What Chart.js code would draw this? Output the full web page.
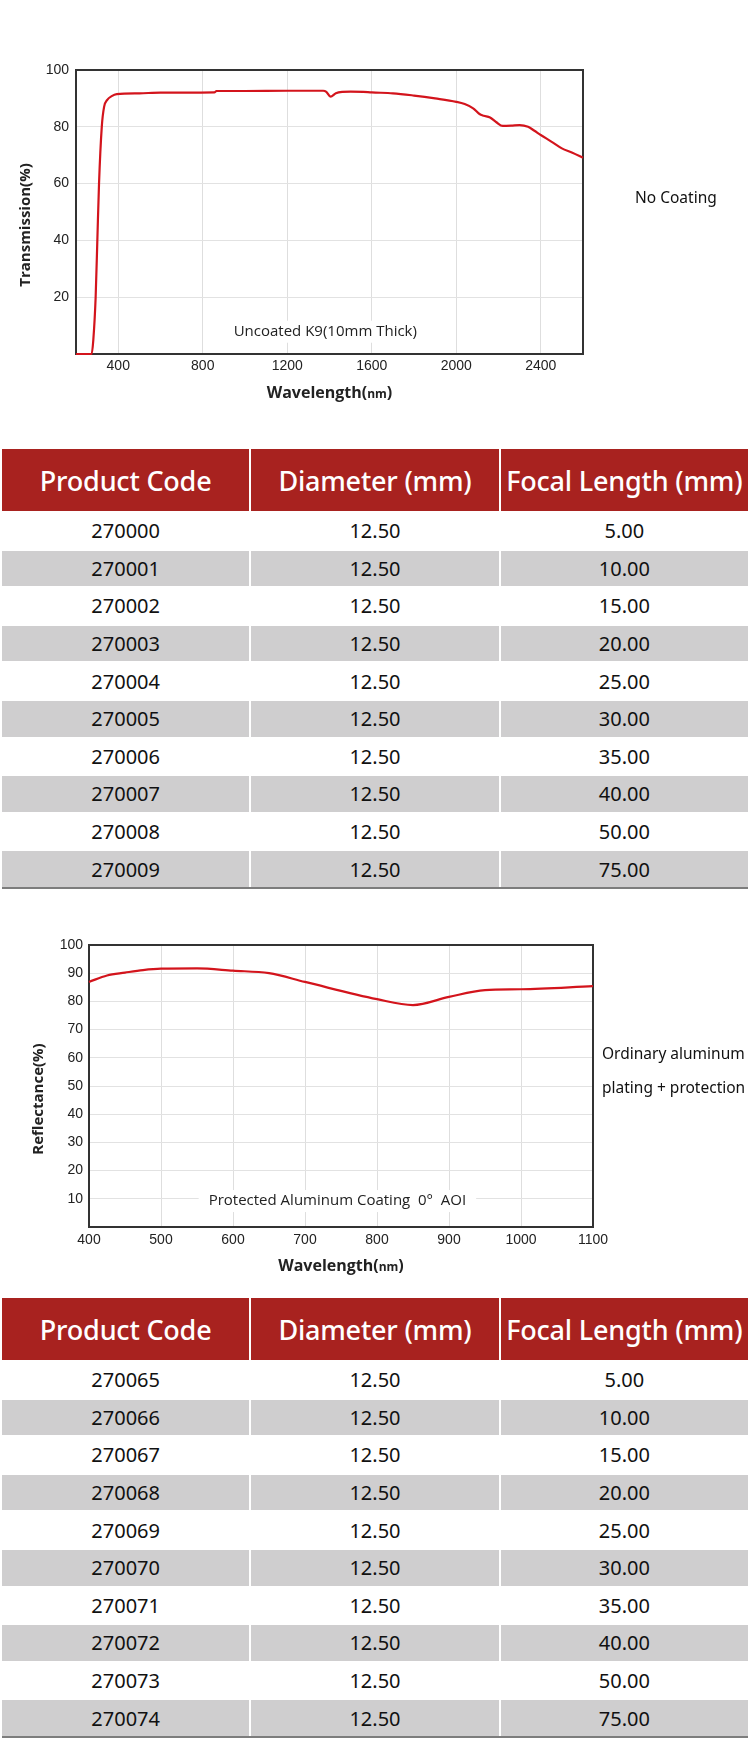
<!DOCTYPE html>
<html>
<head>
<meta charset="utf-8">
<script src="https://cdn.jsdelivr.net/npm/chart.js@4.4.0/dist/chart.umd.min.js"></script>
<style>
body { margin: 0; background: #fff; }
#page { position: relative; width: 750px; height: 1740px; overflow: hidden; background: #fff; }
.plot { position: absolute; left: 0; }
.side { position: absolute; font-family: 'Noto Sans', sans-serif; font-size: 15.5px; line-height: 20px; color: #111; white-space: nowrap; }
.spec { position: absolute; left: 0; width: 750px; }
.spec table { width: 750px; border-collapse: separate; border-spacing: 2px; table-layout: fixed; font-family: 'Noto Sans', sans-serif; }
.spec th { background: #a8221f; color: #fff; height: 62px; font-size: 27px; font-weight: 500; padding: 0; white-space: nowrap; letter-spacing: -0.2px; }
.spec td { height: 35.6px; padding: 0; text-align: center; font-size: 20px; color: #111; }
.spec tbody tr:nth-child(even) td { background: #cfcecf; }
.spec .rule { margin: -2px 0 0 2px; width: 746px; height: 2px; background: #7d7d7d; }
</style>
</head>
<body>
<div id="page">
  <canvas id="transChart" class="plot" width="750" height="420" style="top:0"></canvas>
  <div class="side" style="left:635px; top:187px">No Coating</div>

  <div class="spec" id="table1" style="top:447px"></div>

  <canvas id="reflChart" class="plot" width="750" height="390" style="top:900px"></canvas>
  <div class="side" style="left:602px; top:1043px">Ordinary aluminum</div>
  <div class="side" style="left:602px; top:1077px">plating + protection</div>

  <div class="spec" id="table2" style="top:1296px"></div>
</div>

<script>
// uncoated K9 transmission curve
var wl1 = [200, 274, 282, 293, 301, 309, 322, 333, 348, 369, 393, 500, 600, 700, 855, 865, 1000, 1200, 1370, 1385, 1405, 1430, 1460, 1500, 1560, 1600, 1700, 1800, 1900, 2000, 2040, 2080, 2110, 2130, 2160, 2190, 2220, 2260, 2300, 2340, 2370, 2400, 2450, 2500, 2550, 2600];
var trans1 = [0, 0, 5, 20, 40, 60, 80, 87, 89.5, 90.8, 91.5, 91.8, 92, 92, 92.1, 92.6, 92.6, 92.7, 92.7, 92.3, 90.6, 91.8, 92.3, 92.4, 92.3, 92.1, 91.8, 91, 90, 88.8, 88, 86.5, 84.5, 83.9, 83.3, 81.6, 80.3, 80.4, 80.6, 80, 78.6, 77.1, 74.8, 72.4, 70.9, 69.1];
var xRange1 = [200, 2600];
var xTicks1 = [400, 800, 1200, 1600, 2000, 2400];
var yTicks1 = [0, 20, 40, 60, 80, 100];

// protected aluminum reflectance curve
var wl2 = [400, 425, 450, 475, 500, 550, 600, 650, 700, 800, 850, 900, 950, 1000, 1100];
var refl2 = [86.9, 89.2, 90.2, 91.1, 91.6, 91.7, 90.9, 90.0, 86.9, 80.8, 78.7, 81.6, 84.0, 84.3, 85.4];
var xRange2 = [400, 1100];
var xTicks2 = [400, 500, 600, 700, 800, 900, 1000, 1100];
var yTicks2 = [0, 10, 20, 30, 40, 50, 60, 70, 80, 90, 100];

// product tables
var headers = ['Product Code', 'Diameter (mm)', 'Focal Length (mm)'];
var codes1 = ['270000', '270001', '270002', '270003', '270004', '270005', '270006', '270007', '270008', '270009'];
var codes2 = ['270065', '270066', '270067', '270068', '270069', '270070', '270071', '270072', '270073', '270074'];
var diameters = ['12.50', '12.50', '12.50', '12.50', '12.50', '12.50', '12.50', '12.50', '12.50', '12.50'];
var focals = ['5.00', '10.00', '15.00', '20.00', '25.00', '30.00', '35.00', '40.00', '50.00', '75.00'];

function buildTable(id, codes) {
     var html = '<table><thead><tr>';
     headers.forEach(function(h) { html += '<th>' + h + '</th>'; });
     html += '</tr></thead><tbody>';
     codes.forEach(function(c, i) {
          html += '<tr><td>' + c + '</td><td>' + diameters[i] + '</td><td>' + focals[i] + '</td></tr>';
     });
     html += '</tbody></table><div class="rule"></div>';
     document.getElementById(id).innerHTML = html;
}
buildTable('table1', codes1);
buildTable('table2', codes2);

// frame, inner note and axis titles
var framePlugin = {
     id: 'frame',
     beforeDatasetsDraw: function(chart) {
          var a = chart.chartArea, ctx = chart.ctx;
          ctx.save();
          ctx.strokeStyle = '#333';
          ctx.lineWidth = 2;
          ctx.strokeRect(a.left, a.top, a.right - a.left, a.bottom - a.top);
          ctx.restore();
     },
     afterDraw: function(chart, args, opts) {
          var a = chart.chartArea, ctx = chart.ctx;
          var sx = chart.scales.x, sy = chart.scales.y;
          ctx.save();
          ctx.textAlign = 'center';
          ctx.textBaseline = 'middle';

          // note inside the plot
          ctx.font = '15px "Open Sans"';
          var nw = ctx.measureText(opts.note).width;
          var nx = sx.getPixelForValue(opts.noteAt[0]);
          var ny = sy.getPixelForValue(opts.noteAt[1]);
          ctx.fillStyle = '#fff';
          ctx.fillRect(nx - nw / 2 - 10, ny - 11, nw + 20, 22);
          ctx.fillStyle = '#222';
          ctx.fillText(opts.note, nx, ny);

          // y title
          ctx.save();
          ctx.font = 'bold 15px "Open Sans"';
          ctx.translate(a.left - 50, (a.top + a.bottom) / 2 + 13);
          ctx.rotate(-Math.PI / 2);
          ctx.fillText(opts.yTitle, 0, 0);
          ctx.restore();

          // x title, unit in smaller type
          var parts = [['Wavelength(', 'bold 16px "Open Sans"'], ['nm', 'bold 12px "Open Sans"'], [')', 'bold 16px "Open Sans"']];
          var total = 0;
          parts.forEach(function(p) { ctx.font = p[1]; total += ctx.measureText(p[0]).width; });
          var cx = (a.left + a.right) / 2 - total / 2;
          ctx.textAlign = 'left';
          ctx.textBaseline = 'alphabetic';
          parts.forEach(function(p) {
               ctx.font = p[1];
               ctx.fillText(p[0], cx, a.bottom + 44);
               cx += ctx.measureText(p[0]).width;
          });
          ctx.restore();
     }
};

function spectrumChart(idName, xs, ys, xRange, xTicks, yTicks, cfg) {
     var points = xs.map(function(v, i) { return { x: v, y: ys[i] }; });
     var tickFont = { family: '"Liberation Sans", Arial', size: 14 };
     return new Chart(idName, {
          type: 'line',
          data: {
               datasets: [
                    {
                         data: points,
                         borderColor: '#d3141c',
                         borderWidth: 2.2,
                         pointRadius: 0,
                         cubicInterpolationMode: 'monotone',
                         fill: false,
                         clip: false
                    }
               ]
          },
          options: {
               responsive: false,
               animation: false,
               layout: { padding: cfg.padding },
               plugins: {
                    legend: { display: false },
                    tooltip: { enabled: false },
                    frame: cfg.frame
               },
               scales: {
                    x: {
                         type: 'linear',
                         min: xRange[0],
                         max: xRange[1],
                         afterBuildTicks: function(s) { s.ticks = xTicks.map(function(v) { return { value: v }; }); },
                         afterFit: function(s) { s.height = cfg.xHeight; },
                         grid: { color: '#dedede', drawTicks: false },
                         border: { display: false },
                         ticks: {
                              padding: cfg.xPad, font: tickFont, color: '#222', maxRotation: 0, autoSkip: false,
                              callback: function(v) { return String(v); }
                         }
                    },
                    y: {
                         min: yTicks[0],
                         max: yTicks[yTicks.length - 1],
                         afterBuildTicks: function(s) { s.ticks = yTicks.map(function(v) { return { value: v }; }); },
                         afterFit: function(s) { s.width = cfg.yWidth; },
                         grid: { color: '#e2e2e2', drawTicks: false },
                         border: { display: false },
                         ticks: {
                              padding: cfg.yPad, font: tickFont, color: '#222', autoSkip: false,
                              callback: function(v) { return v === 0 ? '' : String(v); }
                         }
                    }
               }
          },
          plugins: [framePlugin]
     });
}

spectrumChart('transChart', wl1, trans1, xRange1, xTicks1, yTicks1, {
     padding: { top: 70, right: 167, left: 0, bottom: 0 },
     yWidth: 76, xHeight: 66, xPad: 4, yPad: 7,
     frame: { note: 'Uncoated K9(10mm Thick)', noteAt: [1380, 7.85], yTitle: 'Transmission(%)' }
});

spectrumChart('reflChart', wl2, refl2, xRange2, xTicks2, yTicks2, {
     padding: { top: 45, right: 157, left: 0, bottom: 0 },
     yWidth: 89, xHeight: 63, xPad: 5, yPad: 6,
     frame: { note: 'Protected Aluminum Coating  0°  AOI', noteAt: [745, 9.2], yTitle: 'Reflectance(%)' }
});
</script>
</body>
</html>
